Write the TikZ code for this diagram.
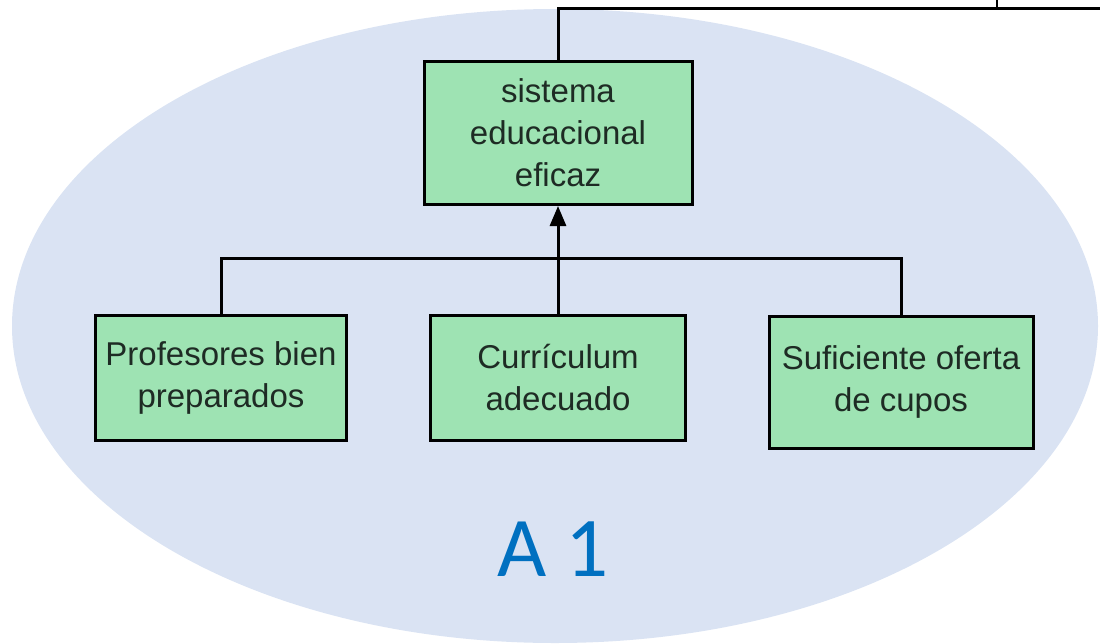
\documentclass[tikz,border=0pt]{standalone}
\usepackage{fontspec}
\usepackage{xcolor}
\usetikzlibrary{arrows.meta}
\setmainfont{Liberation Sans}
\newfontfamily\labelfont{Carlito}

\definecolor{areablue}{HTML}{DAE3F3}
\definecolor{boxgreen}{HTML}{9EE3B3}
\definecolor{boxtext}{HTML}{1E2B24}
\definecolor{labelblue}{HTML}{0070C0}

\begin{document}
\begin{tikzpicture}[x=1pt,y=-1pt,line width=3pt,
    font=\fontsize{33pt}{42pt}\selectfont,
    base/.style={rectangle,draw=black,fill=boxgreen,text=boxtext,align=center,
        minimum width=255pt,minimum height=125pt,inner sep=0pt}]

    \useasboundingbox (0,0) rectangle (1100,643);
    \fill[areablue] (555,326) ellipse [x radius=543pt, y radius=317pt];

    \node[base, minimum width=268pt, minimum height=143pt] (goal) at (558,133)
    {
        sistema\\educacional\\eficaz
    };
    \node[base, below of=goal, node distance=245pt] (cur)
    {
        Currículum\\adecuado
    };
    \node[base, minimum width=251pt, left of=cur, node distance=337pt] (prof)
    {
        Profesores bien\\preparados
    };
    \node[base, minimum width=264pt, minimum height=132pt, right of=cur, node distance=343pt, yshift=-4pt] (ofer)
    {
        Suficiente oferta\\de cupos
    };

    \node[text=labelblue, font=\labelfont\fontsize{85pt}{85pt}\selectfont] (area) at (553,549) {A 1};

    \coordinate (bus) at (558,258);
    \coordinate (topright) at (1100,8);
    \coordinate (tick) at (997,0);

    \draw (goal.north) |- (topright);
    \draw[line width=2pt] (tick) -- (tick |- topright);
    \draw (prof.north) -- (prof.north |- bus) -- (ofer.north |- bus) -- (ofer.north);
    \draw (cur.north) -- (bus);
    \draw[-{Triangle[length=20pt,width=16pt]}] (bus) -- (goal.south);
\end{tikzpicture}
\end{document}
